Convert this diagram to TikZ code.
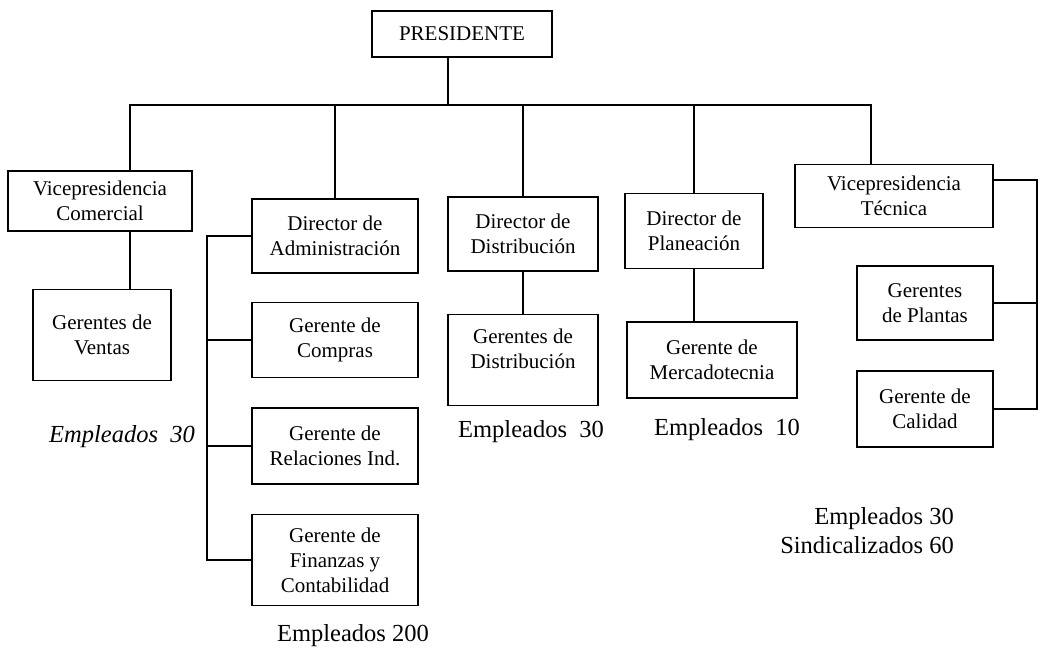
\documentclass[tikz,border=0pt]{standalone}
\usepackage{fontspec}
\setmainfont{Liberation Serif}
\usetikzlibrary{positioning,calc}

\begin{document}
\begin{tikzpicture}[x=1pt,y=-1pt,
  caja/.style={draw, line width=1.2pt, inner sep=0pt, align=center,
    font=\fontsize{21}{25}\selectfont},
  linea/.style={line width=1.2pt, line cap=rect},
  nota/.style={inner sep=0pt, font=\fontsize{24.5}{29}\selectfont}]
  \useasboundingbox (0,0) rectangle (1047,651);

  % presidencia
  \node[caja, minimum width=180pt, minimum height=46pt] (pres) at (462,34) {PRESIDENTE};

  % primer nivel
  \node[caja, minimum width=184pt, minimum height=60pt] (vpc) at (100,201) {Vicepresidencia\\Comercial};
  \node[caja, minimum width=166pt, minimum height=74pt] (dadm) at (335,236) {Director de\\Administración};
  \node[caja, minimum width=150pt, minimum height=74pt] (ddis) at (523,234) {Director de\\Distribución};
  \node[caja, minimum width=138pt, minimum height=75pt] (dpla) at (694,231) {Director de\\Planeación};
  \node[caja, minimum width=198pt, minimum height=63pt] (vpt) at (894,196) {Vicepresidencia\\Técnica};

  % gerencias
  \node[caja, minimum width=138pt, minimum height=91pt] (gven) at (102,335) {Gerentes de\\Ventas};
  \node[caja, minimum width=166pt, minimum height=75pt] (gcom) at (335,340) {Gerente de\\Compras};
  \node[caja, minimum width=166pt, minimum height=76pt] (grel) at (335,446) {Gerente de\\Relaciones Ind.};
  \node[caja, minimum width=166pt, minimum height=91pt] (gfin) at (335,560) {Gerente de\\Finanzas y\\Contabilidad};
  \node[caja, minimum width=150pt, minimum height=91pt] (gdis) at (523,360) {Gerentes de\\Distribución\\[-3pt]};
  \node[caja, minimum width=170pt, minimum height=76pt] (gmer) at (712,360) {Gerente de\\Mercadotecnia};
  \node[caja, minimum width=136pt, minimum height=74pt] (gpla) at (925,303) {Gerentes\\de Plantas};
  \node[caja, minimum width=136pt, minimum height=76pt] (gcal) at (925,409) {Gerente de\\Calidad};

  % lineas principales
  \coordinate (bus1) at (130,105);
  \coordinate (bus2) at (871,105);
  \coordinate (bajada) at (448,105);
  \draw[linea] (bus1) -- (bus2);
  \draw[linea] (pres.south -| bajada) -- (bajada);
  \draw[linea] (bus1) -- (vpc.north -| bus1);
  \draw[linea] (vpc.south -| bus1) -- (gven.north -| bus1);
  \draw[linea] (dadm.north |- bus1) -- (dadm.north);
  \draw[linea] (ddis.north |- bus1) -- (ddis.north);
  \draw[linea] (ddis.south) -- (gdis.north);
  \draw[linea] (dpla.north |- bus1) -- (dpla.north);
  \draw[linea] (dpla.south) -- (dpla.south |- gmer.north);
  \draw[linea] (bus2) -- (vpt.north -| bus2);

  % ejes laterales
  \coordinate (ejeA) at (207,560);
  \draw[linea] (dadm.west) -| (ejeA);
  \foreach \n in {gcom,grel,gfin}
    \draw[linea] (\n.west) -- (\n.west -| ejeA);
  \coordinate (ejeB) at (1037,409);
  \draw[linea] ([yshift=16pt]vpt.east) -| (ejeB);
  \foreach \n in {gpla,gcal}
    \draw[linea] (\n.east) -- (\n.east -| ejeB);

  % empleados
  \node[nota] (emp1) at (122,437) {\itshape Empleados\ \ 30};
  \node[nota] (emp2) at (353,636) {Empleados 200};
  \node[nota] (emp3) at (531,432) {Empleados\ \ 30};
  \node[nota] (emp4) at (727,430) {Empleados\ \ 10};
  \node[nota, align=right, anchor=east] (emp5) at (954,531) {Empleados 30\\Sindicalizados 60};
\end{tikzpicture}
\end{document}
